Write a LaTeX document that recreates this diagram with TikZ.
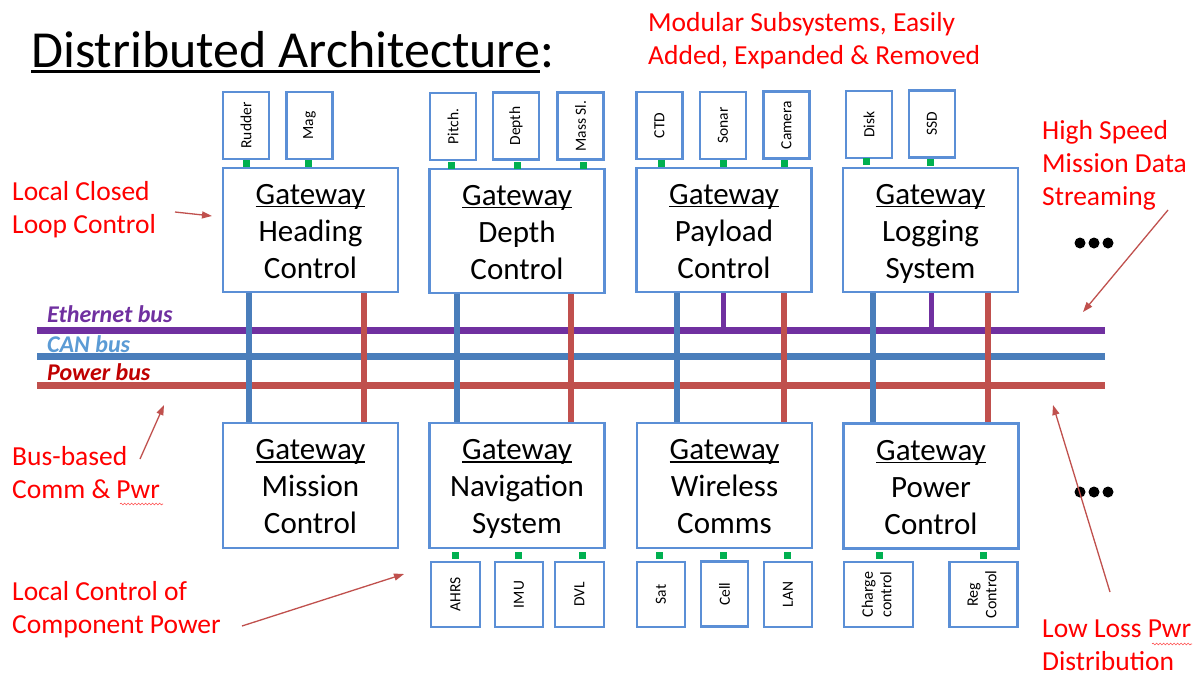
\documentclass[tikz,border=0pt]{standalone}
\usepackage{fontspec}
\setmainfont{Carlito}
\usepackage{graphicx}
\usetikzlibrary{arrows.meta,decorations.pathmorphing}

\definecolor{boxblue}{HTML}{5B8FD6}
\definecolor{canblue}{HTML}{4A7EBB}
\definecolor{pwrred}{HTML}{C0504D}
\definecolor{ethpurple}{HTML}{7030A0}
\definecolor{portgreen}{HTML}{00B050}
\definecolor{canlabel}{HTML}{5B9BD5}
\definecolor{pwrlabel}{HTML}{C00000}
\definecolor{notered}{HTML}{FF0000}
\definecolor{arrowred}{HTML}{C0504D}

% word-processor style underline that sits just below the baseline
\newcommand\wordul[1]{\setbox0\hbox{#1}\rlap{\rule[-0.11em]{\wd0}{0.06em}}\box0}
% three-line gateway caption with fixed line positions
\newcommand\gwtext[2]{\rule{0pt}{33pt}\wordul{Gateway}\\#1\\#2\rule[-11pt]{0pt}{1pt}}

\tikzset{
  gw/.style={draw=boxblue, line width=2.5pt, fill=white, minimum width=175pt,
    minimum height=124pt, inner sep=0pt, align=center,
    font=\fontsize{31}{37}\selectfont},
  dev/.style={draw=boxblue, line width=2.5pt, fill=white, minimum width=46pt,
    minimum height=67pt, inner sep=0pt, font=\fontsize{15.5}{17}\selectfont},
  twoline/.style={font=\fontsize{16}{18.5}\selectfont},
  port/.style={fill=portgreen, minimum size=7pt, inner sep=0pt},
  ethbus/.style={ethpurple, line width=7pt},
  canbus/.style={canblue, line width=7pt},
  pwrbus/.style={pwrred, line width=7pt},
  canline/.style={canblue, line width=6.5pt},
  pwrline/.style={pwrred, line width=6pt},
  ethdrop/.style={ethpurple, line width=5pt},
  buslabel/.style={inner sep=0pt, font=\fontsize{24}{26}\selectfont\bfseries\itshape},
  note/.style={text=notered, inner sep=0pt, align=left,
    font=\fontsize{27.5}{33}\selectfont},
  callout/.style={arrowred, line width=1.3pt, -{Triangle[length=10pt,width=7pt]}},
  spell/.style={red!70, line width=0.6pt,
    decorate, decoration={snake, segment length=3.5pt, amplitude=0.9pt}},
  dot/.style={circle, fill=black, minimum size=11pt, inner sep=0pt}
}

\begin{document}
\begin{tikzpicture}[x=1pt,y=-1pt]
\useasboundingbox[fill=white] (0,0) rectangle (1195,675);

% title
\node[anchor=base west, inner sep=0pt, font=\fontsize{52}{58}\selectfont]
  (title) at (31,67) {\wordul{Distributed Architecture}:};

% bus lines
\coordinate (eth-w) at (37,330);  \coordinate (eth-e) at (1105,330);
\coordinate (can-w) at (37,356);  \coordinate (can-e) at (1105,356);
\coordinate (pwr-w) at (37,385);  \coordinate (pwr-e) at (1105,385);
\draw[ethbus] (eth-w) -- (eth-e);
\draw[canbus] (can-w) -- (can-e);
\draw[pwrbus] (pwr-w) -- (pwr-e);

\node[buslabel, text=ethpurple, anchor=base west] (ethlab) at (47,322) {Ethernet bus};
\node[buslabel, text=canlabel, anchor=base west] (canlab) at (47,352) {CAN bus};
\node[buslabel, text=pwrlabel, anchor=base west] (pwrlab) at (47,380) {Power bus};

% gateways above the buses
\node[gw] (hdg) at (310.5,230) {\gwtext{Heading}{Control}};
\node[gw] (dep) at (517,231) {\gwtext{Depth}{Control}};
\node[gw] (pay) at (724,230) {\gwtext{Payload}{Control}};
\node[gw] (log) at (930.5,230) {\gwtext{Logging}{System}};

% gateways below the buses
\node[gw, minimum height=125pt] (mis) at (310.5,485.5) {\gwtext{Mission}{Control}};
\node[gw, minimum height=125pt] (nav) at (517,485.5) {\gwtext{Navigation}{System}};
\node[gw, minimum height=125pt] (wir) at (724.5,485.5) {\gwtext{Wireless}{Comms}};
\node[gw, minimum height=125pt] (pwc) at (931,486) {\gwtext{Power}{Control}};

% devices on the upper gateways
\node[dev] (rud) at (246,125.5) {\rotatebox{90}{Rudder}};
\node[dev] (mag) at (309.5,125.5) {\rotatebox{90}{Mag}};
\node[dev] (pit) at (453,126.5) {\rotatebox{90}{Pitch.}};
\node[dev] (dpt) at (516,126) {\rotatebox{90}{Depth}};
\node[dev] (mas) at (580.5,126) {\rotatebox{90}{Mass Sl.}};
\node[dev] (ctd) at (659.5,125.5) {\rotatebox{90}{CTD}};
\node[dev] (son) at (723,125.5) {\rotatebox{90}{Sonar}};
\node[dev] (cam) at (786.5,125) {\rotatebox{90}{Camera}};
\node[dev] (dsk) at (869,124.5) {\rotatebox{90}{Disk}};
\node[dev] (ssd) at (932,124) {\rotatebox{90}{SSD}};

\node[port] (p-rud) at (246,163.5) {};
\node[port] (p-mag) at (308,163.5) {};
\node[port] (p-pit) at (451,165) {};
\node[port] (p-dpt) at (517,165) {};
\node[port] (p-mas) at (583,165) {};
\node[port] (p-ctd) at (661,163) {};
\node[port] (p-son) at (723,163) {};
\node[port] (p-cam) at (784,163) {};
\node[port] (p-dsk) at (866,161.5) {};
\node[port] (p-ssd) at (930,162.5) {};

% devices on the lower gateways
\node[dev, minimum width=49pt, minimum height=65pt] (ahr) at (455.5,594.5) {\rotatebox{90}{AHRS}};
\node[dev, minimum width=48pt, minimum height=65pt] (imu) at (519,594.5) {\rotatebox{90}{IMU}};
\node[dev, minimum width=49pt, minimum height=65pt] (dvl) at (579.5,594.5) {\rotatebox{90}{DVL}};
\node[dev, minimum width=48pt, minimum height=65pt] (sat) at (661,594.5) {\rotatebox{90}{Sat}};
\node[dev, minimum width=47pt, minimum height=65pt] (cel) at (724.5,594) {\rotatebox{90}{Cell}};
\node[dev, minimum width=48pt, minimum height=65pt] (lan) at (788,594.5) {\rotatebox{90}{LAN}};
\node[dev, twoline, minimum width=69pt, minimum height=65pt] (chg) at (878.5,594.5)
  {\rotatebox{90}{\begin{tabular}{@{}c@{}}Charge\\control\end{tabular}}};
\node[dev, twoline, minimum width=68pt, minimum height=65pt] (reg) at (983.5,594.5)
  {\rotatebox{90}{\begin{tabular}{@{}c@{}}Reg\\Control\end{tabular}}};

\node[port] (p-ahr) at (455,555) {};
\node[port] (p-imu) at (518,555) {};
\node[port] (p-dvl) at (582,555) {};
\node[port] (p-sat) at (659,555) {};
\node[port] (p-cel) at (723,555) {};
\node[port] (p-lan) at (787,555) {};
\node[port] (p-chg) at (879,555) {};
\node[port] (p-reg) at (983,555) {};

% gateway taps onto the CAN and power buses
\coordinate (c1) at (249,0);  \coordinate (r1) at (364,0);
\coordinate (c2) at (457,0);  \coordinate (r2) at (571,0);
\coordinate (c3) at (677,0);  \coordinate (r3) at (784,0);
\coordinate (c4) at (873,0);  \coordinate (r4) at (988,0);
\draw[canline] (hdg.south -| c1) -- (mis.north -| c1);
\draw[pwrline] (hdg.south -| r1) -- (mis.north -| r1);
\draw[canline] (dep.south -| c2) -- (nav.north -| c2);
\draw[pwrline] (dep.south -| r2) -- (nav.north -| r2);
\draw[canline] (pay.south -| c3) -- (wir.north -| c3);
\draw[pwrline] (pay.south -| r3) -- (wir.north -| r3);
\draw[canline] (log.south -| c4) -- (pwc.north -| c4);
\draw[pwrline] (log.south -| r4) -- (pwc.north -| r4);

% Ethernet taps for the data-heavy gateways
\coordinate (e1) at (723,0);  \coordinate (e2) at (931,0);
\draw[ethdrop] (pay.south -| e1) -- (e1 |- eth-w);
\draw[ethdrop] (log.south -| e2) -- (e2 |- eth-w);

% more gateways can follow
\node[dot] (d1) at (1080,243) {};
\node[dot] (d2) at (1094,243) {};
\node[dot] (d3) at (1108,243) {};
\node[dot] (d4) at (1080,492) {};
\node[dot] (d5) at (1094,492) {};
\node[dot] (d6) at (1108,492) {};

% notes (anchored at the baseline of their last line)
\node[note, anchor=base west] (n-mod) at (648,64) {Modular Subsystems, Easily\\Added, Expanded \& Removed};
\node[note, anchor=base west] (n-loop) at (12,233) {Local Closed\\Loop Control};
\node[note, anchor=base west] (n-speed) at (1042,205) {High Speed\\Mission Data\\Streaming};
\node[note, anchor=base west] (n-bus) at (12,498) {Bus-based\\Comm \& Pwr};
\node[note, anchor=base west] (n-comp) at (12,633) {Local Control of\\Component Power};
\node[note, anchor=base west] (n-loss) at (1042,670) {Low Loss Pwr\\Distribution};

% note pointers
\coordinate (t-loop) at (175,212);   \coordinate (h-loop) at (212,216);
\coordinate (t-bus) at (140,459);    \coordinate (h-bus) at (164,405);
\coordinate (t-comp) at (242,626);   \coordinate (h-comp) at (404,574);
\coordinate (t-speed) at (1168,210); \coordinate (h-speed) at (1083,312);
\coordinate (t-loss) at (1110,592);  \coordinate (h-loss) at (1053,405);
\draw[callout] (t-loop) -- (h-loop);
\draw[callout] (t-bus) -- (h-bus);
\draw[callout] (t-comp) -- (h-comp);
\draw[callout] (t-speed) -- (h-speed);
\draw[callout] (t-loss) -- (h-loss);

% spell-check squiggles
\draw[spell] (120,504) -- (163,504);
\draw[spell] (1152,644) -- (1192,644);
\end{tikzpicture}
\end{document}
